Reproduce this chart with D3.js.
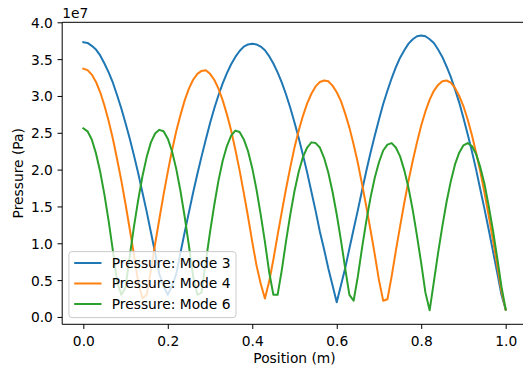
<!DOCTYPE html>
<html><head><meta charset="utf-8">
<script src="https://cdn.jsdelivr.net/npm/d3@7"></script>
<style>html,body{margin:0;padding:0;background:#fff;overflow:hidden}svg{display:block}</style>
</head><body>
<svg id="c" width="523" height="369"></svg>
<script>
// Position samples (m)
const positions = [0,0.01,0.02,0.03,0.04,0.05,0.06,0.07,0.08,0.09,0.1,0.11,0.12,0.13,0.14,0.15,0.16,0.17,0.18,0.19,0.2,0.21,0.22,0.23,0.24,0.25,0.26,0.27,0.28,0.29,0.3,0.31,0.32,0.33,0.34,0.35,0.36,0.37,0.38,0.39,0.4,0.41,0.42,0.43,0.44,0.45,0.46,0.47,0.48,0.49,0.5,0.51,0.52,0.53,0.54,0.55,0.56,0.57,0.58,0.59,0.6,0.61,0.62,0.63,0.64,0.65,0.66,0.67,0.68,0.69,0.7,0.71,0.72,0.73,0.74,0.75,0.76,0.77,0.78,0.79,0.8,0.81,0.82,0.83,0.84,0.85,0.86,0.87,0.88,0.89,0.9,0.91,0.92,0.93,0.94,0.95,0.96,0.97,0.98,0.99,1.0];
// Pressure values in units of 1e7 Pa
const mode3 = [3.73,3.72,3.68,3.63,3.55,3.44,3.32,3.18,3.01,2.83,2.63,2.42,2.19,1.95,1.69,1.43,1.15,0.87,0.58,0.42,0.30,0.42,0.58,0.87,1.15,1.42,1.69,1.94,2.18,2.41,2.63,2.83,3.01,3.17,3.31,3.43,3.53,3.61,3.67,3.70,3.71,3.70,3.67,3.62,3.54,3.44,3.32,3.18,3.02,2.84,2.64,2.43,2.20,1.96,1.70,1.44,1.16,0.92,0.66,0.43,0.20,0.43,0.66,0.93,1.19,1.45,1.72,1.98,2.23,2.46,2.68,2.89,3.07,3.24,3.39,3.52,3.62,3.71,3.77,3.81,3.82,3.81,3.77,3.72,3.63,3.53,3.40,3.26,3.09,2.91,2.70,2.48,2.25,2.00,1.73,1.46,1.18,0.89,0.60,0.30,0.10];
const mode4 = [3.37,3.35,3.29,3.19,3.05,2.87,2.66,2.42,2.14,1.85,1.53,1.19,0.84,0.47,0.25,0.30,0.63,0.99,1.33,1.66,1.97,2.26,2.52,2.74,2.94,3.10,3.22,3.30,3.34,3.35,3.30,3.22,3.10,2.94,2.75,2.53,2.27,1.99,1.68,1.36,1.02,0.70,0.45,0.25,0.48,0.78,1.11,1.43,1.74,2.03,2.30,2.53,2.73,2.90,3.03,3.13,3.19,3.21,3.20,3.14,3.05,2.93,2.76,2.57,2.34,2.09,1.80,1.50,1.18,0.85,0.50,0.22,0.24,0.55,0.90,1.23,1.55,1.85,2.12,2.37,2.60,2.79,2.95,3.07,3.15,3.20,3.21,3.18,3.11,3.00,2.86,2.68,2.47,2.23,1.97,1.68,1.37,1.04,0.70,0.35,0.10];
const mode6 = [2.56,2.52,2.41,2.22,1.97,1.66,1.30,0.90,0.48,0.30,0.40,0.83,1.23,1.59,1.91,2.17,2.37,2.49,2.54,2.52,2.42,2.25,2.01,1.71,1.36,0.97,0.55,0.30,0.33,0.75,1.15,1.52,1.85,2.12,2.32,2.46,2.53,2.51,2.41,2.25,2.02,1.73,1.39,1.02,0.61,0.30,0.30,0.64,1.03,1.39,1.71,1.97,2.17,2.30,2.37,2.36,2.30,2.16,1.96,1.70,1.39,1.04,0.66,0.30,0.22,0.55,0.94,1.30,1.62,1.89,2.10,2.26,2.34,2.36,2.30,2.18,1.99,1.75,1.45,1.10,0.73,0.33,0.09,0.48,0.87,1.23,1.56,1.84,2.07,2.23,2.33,2.36,2.32,2.21,2.03,1.80,1.50,1.17,0.80,0.41,0.10];
const seriesNames = ["Pressure: Mode 3","Pressure: Mode 4","Pressure: Mode 6"];
const colors = ["#1f77b4","#ff7f0e","#2ca02c"];
const xTicks = [0,0.2,0.4,0.6,0.8,1.0];
const yTicks = [0,0.5,1.0,1.5,2.0,2.5,3.0,3.5,4.0];
const offsetLabel = "1e7";
const xLabel = "Position (m)";
const yLabel = "Pressure (Pa)";

const FONT = "DejaVu Sans";
const FS = 13.8;
const L = 62.2, R = 526.8, T = 22.3, B = 324.3;
const svg = d3.select("#c");
const x = d3.scaleLinear().domain([-0.05, 1.05]).range([L, R]);
const y = d3.scaleLinear().domain([-0.1, 4.0]).range([B, T]);

const g = svg.append("g");
g.append("defs").append("clipPath").attr("id","clip")
  .append("rect").attr("x",L).attr("y",T).attr("width",R-L).attr("height",B-T);

const allSeries = [mode3, mode4, mode6];
const line = d3.line().x((d,i)=>x(positions[i])).y(d=>y(d));
allSeries.forEach((s,i)=>{
  g.append("path").datum(s).attr("d",line)
    .attr("fill","none").attr("stroke",colors[i]).attr("stroke-width",2)
    .attr("stroke-linejoin","round").attr("stroke-linecap","square")
    .attr("clip-path","url(#clip)");
});

// axes
const tickLen = 4.67;
const xAxis = d3.axisBottom(x).tickValues(xTicks).tickFormat(d3.format(".1f")).tickSize(tickLen).tickSizeOuter(0);
const xg = g.append("g").attr("transform",`translate(0,${B})`).call(xAxis);
xg.select(".domain").remove();
xg.selectAll("line").attr("stroke","#000").attr("stroke-width",1);
xg.selectAll("text").attr("y",22).attr("dy",null).attr("font-family",FONT).attr("font-size",FS).attr("fill","#000");

const yAxis = d3.axisLeft(y).tickValues(yTicks).tickFormat(d3.format(".1f")).tickSize(tickLen).tickSizeOuter(0);
const yg = g.append("g").attr("transform",`translate(${L},0)`).call(yAxis);
yg.select(".domain").remove();
yg.selectAll("line").attr("stroke","#000").attr("stroke-width",1);
yg.selectAll("text").attr("x",-9.3).attr("dy","0.36em").attr("font-family",FONT).attr("font-size",FS).attr("fill","#000");

// spines
g.append("line").attr("x1",L).attr("x2",L).attr("y1",T).attr("y2",B).attr("stroke","#000").attr("stroke-width",1);
g.append("line").attr("x1",L).attr("x2",R).attr("y1",B).attr("y2",B).attr("stroke","#000").attr("stroke-width",1);
g.append("line").attr("x1",L).attr("x2",R).attr("y1",T).attr("y2",T).attr("stroke","#000").attr("stroke-width",1);
g.append("line").attr("x1",R).attr("x2",R).attr("y1",T).attr("y2",B).attr("stroke","#000").attr("stroke-width",1);

// offset text & labels
g.append("text").attr("x",L).attr("y",18.3).text(offsetLabel)
  .attr("font-family",FONT).attr("font-size",FS).attr("fill","#000");
g.append("text").attr("x",(L+R)/2).attr("y",363).attr("text-anchor","middle").text(xLabel)
  .attr("font-family",FONT).attr("font-size",FS).attr("fill","#000");
g.append("text").attr("transform",`translate(22.5,${(T+B)/2}) rotate(-90)`).attr("text-anchor","middle").text(yLabel)
  .attr("font-family",FONT).attr("font-size",FS).attr("fill","#000");

// legend
const lg = g.append("g");
const box = lg.append("rect");
const rowY = [263, 283.5, 304];
const hx0 = 74.2, hx1 = 101.5, tx = 111.8;
let maxW = 0;
seriesNames.forEach((n,i)=>{
  lg.append("line").attr("x1",hx0).attr("x2",hx1).attr("y1",rowY[i]).attr("y2",rowY[i])
    .attr("stroke",colors[i]).attr("stroke-width",2);
  const t = lg.append("text").attr("x",tx).attr("y",rowY[i]).attr("dy","0.36em").text(n)
    .attr("font-family",FONT).attr("font-size",FS).attr("fill","#000");
  maxW = Math.max(maxW, t.node().getComputedTextLength());
});
const bx = 68.9, by = 251.6, bb = 317.6;
box.attr("x",bx).attr("y",by).attr("width",tx+maxW+5.5-bx).attr("height",bb-by)
  .attr("rx",3).attr("fill","#fff").attr("fill-opacity",0.8).attr("stroke","#cccccc").attr("stroke-width",1);
</script>
</body></html>
